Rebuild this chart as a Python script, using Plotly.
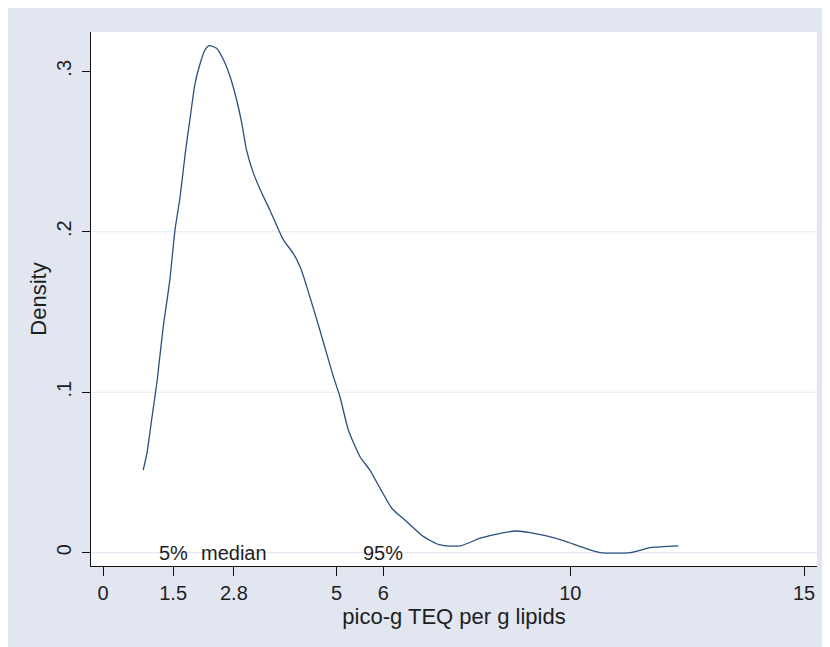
import plotly.graph_objects as go

# Kernel density curve
dens_x = [0.86, 0.94, 1.04, 1.16, 1.28, 1.43, 1.54, 1.65, 1.76, 1.86, 1.97, 2.08, 2.18,
          2.27, 2.43, 2.58, 2.72, 2.86, 2.97, 3.07, 3.22, 3.40, 3.57, 3.86, 4.07, 4.22,
          4.36, 4.64, 4.93, 5.07, 5.25, 5.50, 5.71, 5.93, 6.18, 6.50, 6.86, 7.21, 7.64,
          8.07, 8.50, 8.85, 9.14, 9.49, 9.85, 10.28, 10.64, 11.28, 11.71, 12.31]
dens_y = [0.0515, 0.062, 0.0827, 0.1076, 0.1387, 0.170, 0.201, 0.222, 0.249, 0.270, 0.2925,
          0.305, 0.3133, 0.316, 0.3143, 0.307, 0.2966, 0.2821, 0.2676, 0.251, 0.2364, 0.224,
          0.2136, 0.1949, 0.1866, 0.178, 0.1658, 0.1388, 0.1097, 0.0972, 0.0765, 0.0598,
          0.0515, 0.0401, 0.0277, 0.0193, 0.010, 0.0048, 0.0042, 0.009, 0.0121, 0.0135,
          0.0125, 0.0104, 0.0075, 0.0031, 0.0, 0.0, 0.0031, 0.0042]

x_tickvals = [0, 1.5, 2.8, 5, 6, 10, 15]
x_ticktext = ["0", "1.5", "2.8", "5", "6", "10", "15"]
y_tickvals = [0, 0.1, 0.2, 0.3]
y_ticktext = ["0", ".1", ".2", ".3"]
grid_y = [0, 0.1, 0.2]

note_x = [1.5, 2.8, 6]
note_text = ["5%", "median", "95%"]

x_title = "pico-g TEQ per g lipids"
y_title = "Density"

BG = "#e1e6f0"
FONT = "Liberation Sans, Arial, sans-serif"
TXT = "#1e1e1e"

fig = go.Figure()
fig.add_trace(go.Scatter(x=dens_x, y=dens_y, mode="lines",
                         line=dict(color="#2a4f7f", width=1.3, shape="spline", smoothing=0.6),
                         showlegend=False, hoverinfo="skip"))

shapes = []
for gy in grid_y:
    shapes.append(dict(type="line", xref="paper", yref="y", x0=0, x1=1, y0=gy, y1=gy,
                       line=dict(color="#e3e8f2", width=1.2), layer="below"))

annotations = []
for nx, nt in zip(note_x, note_text):
    annotations.append(dict(x=nx, y=0, xref="x", yref="y", text=nt, showarrow=False,
                            xanchor="center", yanchor="middle",
                            font=dict(family=FONT, size=20, color=TXT)))

fig.update_layout(
    width=822, height=639,
    margin=dict(l=83, r=13, t=24, b=81, pad=0),
    paper_bgcolor=BG, plot_bgcolor="white",
    shapes=shapes, annotations=annotations,
    font=dict(family=FONT, size=20, color=TXT),
    xaxis=dict(range=[-0.257, 15.278], tickvals=x_tickvals, ticktext=x_ticktext,
               showgrid=False, zeroline=False, showline=True, linecolor="#111",
               linewidth=1.2, ticks="outside", ticklen=9, tickcolor="#111", tickwidth=1.2,
               tickfont=dict(family=FONT, size=20, color=TXT),
               title=dict(text=x_title, font=dict(family=FONT, size=22, color=TXT), standoff=4),
               automargin=False),
    yaxis=dict(range=[-0.0083, 0.3245], tickvals=y_tickvals, ticktext=y_ticktext,
               showgrid=False, zeroline=False, showline=True, linecolor="#111",
               linewidth=1.2, ticks="outside", ticklen=8, tickcolor="#111", tickwidth=1.2,
               tickangle=-90, ticklabelstandoff=3, tickfont=dict(family=FONT, size=20, color=TXT),
               title=dict(text=y_title, font=dict(family=FONT, size=22, color=TXT), standoff=0),
               automargin=False),
)

fig.write_html("out.html")
